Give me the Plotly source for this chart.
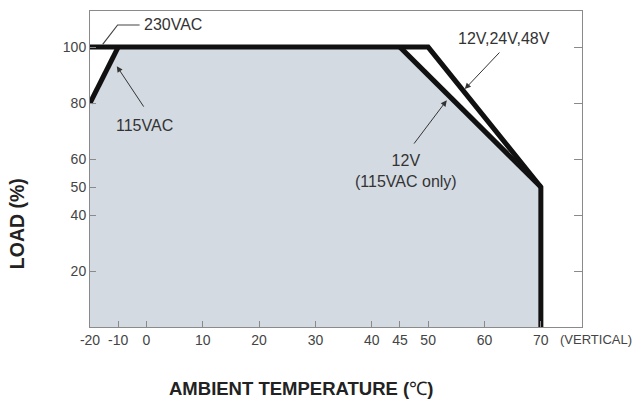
import plotly.graph_objects as go

# ---- data ----
temp_230 = [-20, 50, 70, 70]
load_230 = [100, 100, 50, 0]
temp_115 = [-20, -10]
load_115 = [80, 100]
temp_12v = [45, 70]
load_12v = [100, 50]
temp_fill = [-20, -20, -10, 45, 70, 70]
load_fill = [0, 80, 100, 100, 50, 0]
x_ticks = [-20, -10, 0, 10, 20, 30, 40, 45, 50, 60, 70]
y_ticks = [20, 40, 50, 60, 80, 100]
y_ticks_right = [20, 40, 60, 80, 100]


def tx(t):
    # axis is compressed by half below 0 degC
    return t if t >= 0 else t / 2.0


def txs(ts):
    return [tx(t) for t in ts]


FONT = "Liberation Sans, Arial, sans-serif"
TXT = "#333333"
FRAME = "#8a8a8a"

fig = go.Figure()
fig.add_trace(go.Scatter(x=txs(temp_fill), y=load_fill, fill="toself",
                         fillcolor="#d4dae2", line=dict(width=0),
                         mode="lines", hoverinfo="skip", showlegend=False))
for xs, ys in [(temp_230, load_230), (temp_115, load_115), (temp_12v, load_12v)]:
    fig.add_trace(go.Scatter(x=txs(xs), y=ys, mode="lines",
                             line=dict(color="#111111", width=5),
                             showlegend=False, hoverinfo="skip"))
# invisible trace for right-side tick axis
fig.add_trace(go.Scatter(x=[tx(0)], y=[50], yaxis="y2", mode="markers",
                         marker=dict(opacity=0), showlegend=False, hoverinfo="skip"))

fig.update_layout(
    width=636, height=403,
    margin=dict(l=90, r=54, t=11, b=76),
    paper_bgcolor="white", plot_bgcolor="white",
    font=dict(family=FONT, color=TXT, size=14),
    xaxis=dict(range=[-10, 77.3], tickvals=txs(x_ticks),
               ticktext=[str(t) for t in x_ticks],
               ticks="inside", ticklen=6, tickcolor=FRAME,
               showline=True, linecolor=FRAME, linewidth=1, mirror=True,
               showgrid=False, zeroline=False,
               tickfont=dict(size=14, color="#444444")),
    yaxis=dict(range=[0, 112.9], tickvals=y_ticks,
               ticks="inside", ticklen=6, tickcolor=FRAME,
               showline=True, linecolor=FRAME, linewidth=1, mirror=True,
               showgrid=False, zeroline=False,
               tickfont=dict(size=14, color="#444444")),
    yaxis2=dict(range=[0, 112.9], overlaying="y", side="right",
                tickvals=y_ticks_right, ticks="inside", ticklen=8,
                tickcolor=FRAME, showticklabels=False, showgrid=False,
                zeroline=False, showline=False),
)

# leader for 230VAC
fig.add_shape(type="path",
              path=f"M {tx(-15.5)} 101 L {tx(-10.2)} 107.9 L {-1.2} 107.9",
              line=dict(color="#444444", width=1.2), xref="x", yref="y")

ann = [
    dict(x=-0.7, y=108.2, text="230VAC", xanchor="left", yanchor="middle"),
    dict(x=-0.3, y=72.1, text="115VAC", xanchor="center", yanchor="middle"),
    dict(x=63.5, y=103.2, text="12V,24V,48V", xanchor="center", yanchor="middle"),
    dict(x=46.1, y=55.7, text="12V<br>(115VAC only)", xanchor="center", yanchor="middle"),
]
for a in ann:
    fig.add_annotation(showarrow=False, xref="x", yref="y",
                       font=dict(size=16, color=TXT, family=FONT), **a)

arrows = [
    ((-0.3, 78.2), (tx(-10.5), 93.2)),
    ((62.9, 98.6), (56.5, 85.0)),
    ((47.3, 65.0), (53.3, 81.0)),
]
for (tx0, ty0), (hx, hy) in arrows:
    fig.add_annotation(x=hx, y=hy, ax=tx0, ay=ty0, axref="x", ayref="y",
                       xref="x", yref="y", text="", showarrow=True,
                       arrowhead=2, arrowsize=1.2, arrowwidth=1,
                       arrowcolor="#333333")

fig.add_annotation(x=0.951, y=-0.038, xref="paper", yref="paper",
                   text="(VERTICAL)", showarrow=False, xanchor="left",
                   yanchor="middle", font=dict(size=13, color="#444444", family=FONT))
fig.add_annotation(x=-0.148, y=0.326, xref="paper", yref="paper",
                   text="<b>LOAD (%)</b>", textangle=-90, showarrow=False,
                   xanchor="center", yanchor="middle",
                   font=dict(size=19.5, color="#222222", family=FONT))
fig.add_annotation(x=0.429, y=-0.196, xref="paper", yref="paper",
                   text="<b>AMBIENT TEMPERATURE (</b>℃<b>)</b>", showarrow=False,
                   xanchor="center", yanchor="middle",
                   font=dict(size=18.5, color="#222222", family=FONT))

fig.write_html("out.html", config={"displayModeBar": False},
               post_script="document.body.style.margin='0';document.body.style.padding='0';")
